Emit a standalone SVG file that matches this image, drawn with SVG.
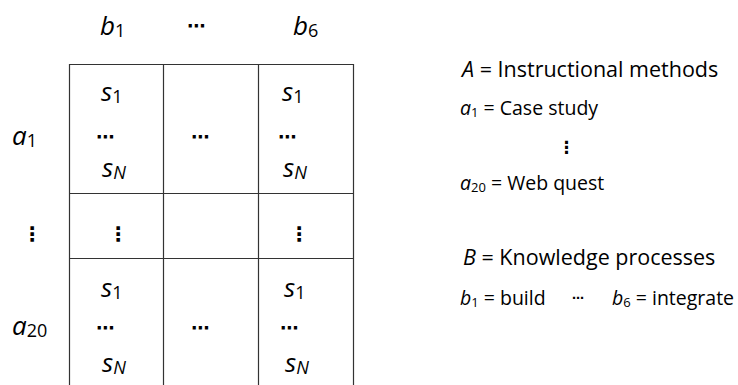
<svg xmlns="http://www.w3.org/2000/svg" width="738" height="385" viewBox="0 0 738 385">
<style>
.m{font-family:"Open Sans","DejaVu Sans",sans-serif;font-style:italic;fill:#000}
.big{font-size:26px}
.sub{font-size:18px;font-style:normal}
.subi{font-size:18px;font-style:italic}
.d{font-family:"DejaVu Sans",sans-serif;font-style:normal;font-weight:bold;fill:#000}
.t{font-family:"Open Sans","Liberation Sans",sans-serif;fill:#000}
.ls{font-size:13px}
.grid{stroke:#333;stroke-width:1.2;fill:none}
</style>
<rect width="738" height="385" fill="#fff"/>
<g id="headers">
<text class="m big" x="100" y="35">b<tspan class="sub" dy="2">1</tspan></text>
<text class="d" x="187" y="32" font-size="18">⋯</text>
<text class="m big" x="293" y="35">b<tspan class="sub" dy="2">6</tspan></text>
<text class="m big" x="12" y="145">a<tspan class="sub" dy="2">1</tspan></text>
<text class="d" x="22" y="241" font-size="20">⋮</text>
<text class="m big" x="12" y="335">a<tspan class="sub" dy="2">20</tspan></text>
</g>
<g id="grid">
<path class="grid" d="M69.5,385 V64.5 H353.5 V385 M163.5,64.5 V385 M258.5,64.5 V385 M69.5,193.5 H353.5 M69.5,258.5 H353.5"/>
</g>
<g id="cell-a1-b1">
<text class="m big" x="101" y="101">s<tspan class="sub" dy="2">1</tspan></text>
<text class="d" x="96" y="143" font-size="18">⋯</text>
<text class="m big" x="102" y="177">s<tspan class="subi" dy="2">N</tspan></text>
</g>
<g id="cell-a1-mid"><text class="d" x="191" y="143" font-size="18">⋯</text></g>
<g id="cell-a1-b6">
<text class="m big" x="282" y="101">s<tspan class="sub" dy="2">1</tspan></text>
<text class="d" x="278" y="143" font-size="18">⋯</text>
<text class="m big" x="283" y="177">s<tspan class="subi" dy="2">N</tspan></text>
</g>
<g id="cell-mid-b1"><text class="d" x="108" y="241" font-size="20">⋮</text></g>
<g id="cell-mid-b6"><text class="d" x="289" y="241" font-size="20">⋮</text></g>
<g id="cell-a20-b1">
<text class="m big" x="101" y="297">s<tspan class="sub" dy="2">1</tspan></text>
<text class="d" x="96" y="334" font-size="18">⋯</text>
<text class="m big" x="102" y="372">s<tspan class="subi" dy="2">N</tspan></text>
</g>
<g id="cell-a20-mid"><text class="d" x="191" y="334" font-size="18">⋯</text></g>
<g id="cell-a20-b6">
<text class="m big" x="284" y="297">s<tspan class="sub" dy="2">1</tspan></text>
<text class="d" x="280" y="334" font-size="18">⋯</text>
<text class="m big" x="285" y="372">s<tspan class="subi" dy="2">N</tspan></text>
</g>
<g id="legend-A">
<text class="t" x="462" y="77" font-size="21.5"><tspan class="m">A</tspan> = Instructional methods</text>
<text class="t" x="460" y="115" font-size="19.5"><tspan class="m">a</tspan><tspan class="ls" dy="2">1</tspan><tspan dy="-2"> = Case study</tspan></text>
<text class="d" x="558" y="153" font-size="17">⋮</text>
<text class="t" x="460" y="190" font-size="19.5"><tspan class="m">a</tspan><tspan class="ls" dy="2">20</tspan><tspan dy="-2"> = Web quest</tspan></text>
</g>
<g id="legend-B">
<text class="t" x="463" y="265" font-size="21.5"><tspan class="m">B</tspan> = Knowledge processes</text>
<text class="t" x="460" y="305" font-size="19.5"><tspan class="m">b</tspan><tspan class="ls" dy="2">1</tspan><tspan dy="-2"> = build</tspan></text>
<text class="d" x="572" y="302" font-size="12" font-weight="normal">⋯</text>
<text class="t" x="612" y="305" font-size="19.5"><tspan class="m">b</tspan><tspan class="ls" dy="2">6</tspan><tspan dy="-2"> = integrate</tspan></text>
</g>
</svg>
